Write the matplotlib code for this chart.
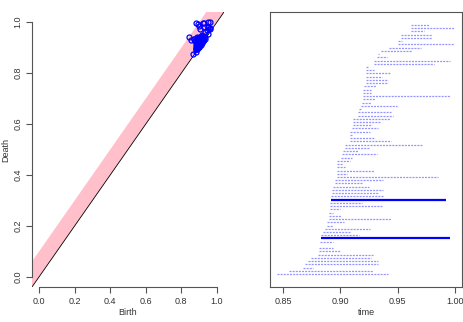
import numpy as np
import matplotlib
matplotlib.use("Agg")
import matplotlib.pyplot as plt

plt.rcParams['font.family'] = ['Liberation Sans Narrow', 'Liberation Sans', 'DejaVu Sans']

# persistence pairs, listed from the bottom bar of the barcode upwards
birth = [0.8448, 0.8552, 0.8674, 0.8689, 0.8718, 0.8747, 0.8805, 0.8816, 0.8816, 0.8819,
         0.8822, 0.8828, 0.8834, 0.8848, 0.8863, 0.8883, 0.8886, 0.8897, 0.8900, 0.8903,
         0.8912, 0.8912, 0.8912, 0.8915, 0.8921, 0.8926, 0.8929, 0.8935, 0.8950, 0.8955,
         0.8967, 0.8967, 0.8973, 0.8973, 0.8973, 0.8973, 0.9008, 0.9016, 0.9022, 0.9037,
         0.9037, 0.9080, 0.9080, 0.9080, 0.9080, 0.9101, 0.9112, 0.9112, 0.9112, 0.9153,
         0.9153, 0.9164, 0.9179, 0.9188, 0.9193, 0.9193, 0.9199, 0.9199, 0.9205, 0.9219,
         0.9219, 0.9219, 0.9219, 0.9222, 0.9225, 0.9289, 0.9289, 0.9321, 0.9330, 0.9356,
         0.9423, 0.9498, 0.9498, 0.9524, 0.9524, 0.9617, 0.9617, 0.9617]
death = [0.9414, 0.9283, 0.8761, 0.9327, 0.9327, 0.9269, 0.9283, 0.8993, 0.8935, 0.8824,
         0.8935, 0.9959, 0.9161, 0.9080, 0.9254, 0.8935, 0.9031, 0.9437, 0.9008, 0.8938,
         0.8993, 0.9370, 0.9188, 0.9921, 0.9370, 0.9327, 0.9370, 0.9248, 0.9196, 0.9370,
         0.9849, 0.9060, 0.9292, 0.9043, 0.9022, 0.9080, 0.9101, 0.9318, 0.9153, 0.9254,
         0.9718, 0.9443, 0.9292, 0.9101, 0.9254, 0.9327, 0.9278, 0.9356, 0.9428, 0.9457,
         0.9443, 0.9188, 0.9492, 0.9269, 0.9298, 0.9951, 0.9269, 0.9269, 0.9307, 0.9414,
         0.9414, 0.9364, 0.9428, 0.9289, 0.9248, 0.9814, 0.9951, 0.9408, 0.9335, 0.9626,
         0.9698, 0.9994, 0.9539, 0.9800, 0.9800, 0.9727, 0.9994, 0.9768]
band = 0.1

birth = np.array(birth)
death = np.array(death)
n = len(birth)
grey = '#555555'
txt = '#333333'

fig = plt.figure(figsize=(4.63, 3.22), dpi=100)

# --- persistence diagram
ax1 = fig.add_axes([0.0691, 0.1087, 0.4147, 0.854])
xx = np.array([-0.2, 1.2])
ax1.fill_between(xx, xx, xx + band, color='pink', lw=0)
ax1.plot(xx, xx, color='black', lw=0.6)
ax1.plot(birth, death, 'o', mfc='none', mec='blue', ms=3.6, mew=0.9)
ax1.set_xlim(-0.04, 1.04)
ax1.set_ylim(-0.04, 1.04)
for s in ['top', 'right']:
    ax1.spines[s].set_visible(False)
for s in ['left', 'bottom']:
    ax1.spines[s].set_bounds(0, 1)
    ax1.spines[s].set_color(grey)
    ax1.spines[s].set_linewidth(0.8)
ticks = np.arange(0, 1.01, 0.2)
ax1.set_xticks(ticks)
ax1.set_yticks(ticks)
ax1.set_xticklabels(['%.1f' % t for t in ticks])
ax1.set_yticklabels(['%.1f' % t for t in ticks], rotation=90, va='center')
ax1.tick_params(length=4, width=0.8, color=grey, labelsize=6.5, labelcolor=txt, pad=3)
ax1.set_xlabel('Birth', fontsize=6.5, color=txt, labelpad=2)
ax1.set_ylabel('Death', fontsize=6.5, color=txt, labelpad=2)

# --- barcode
ax2 = fig.add_axes([0.5832, 0.1087, 0.4147, 0.854])
idx = np.arange(1, n + 1)
for i in range(n):
    if death[i] - birth[i] > band:
        ax2.plot([birth[i], death[i]], [idx[i], idx[i]], color='blue', lw=1.6,
                 solid_capstyle='butt')
    else:
        ax2.plot([birth[i], death[i]], [idx[i], idx[i]], color='#9494ff', lw=0.9,
                 dashes=(1.6, 0.9))
ax2.set_xlim(0.8386, 1.006)
ax2.set_ylim(-3, n + 4)
ax2.set_yticks([])
xt = [0.85, 0.90, 0.95, 1.00]
ax2.set_xticks(xt)
ax2.set_xticklabels(['%.2f' % t for t in xt])
for s in ax2.spines.values():
    s.set_color(grey)
    s.set_linewidth(0.8)
ax2.tick_params(length=4, width=0.8, color=grey, labelsize=6.5, labelcolor=txt, pad=3)
ax2.set_xlabel('time', fontsize=6.5, color=txt, labelpad=2)

fig.savefig('out.png', dpi=100)
